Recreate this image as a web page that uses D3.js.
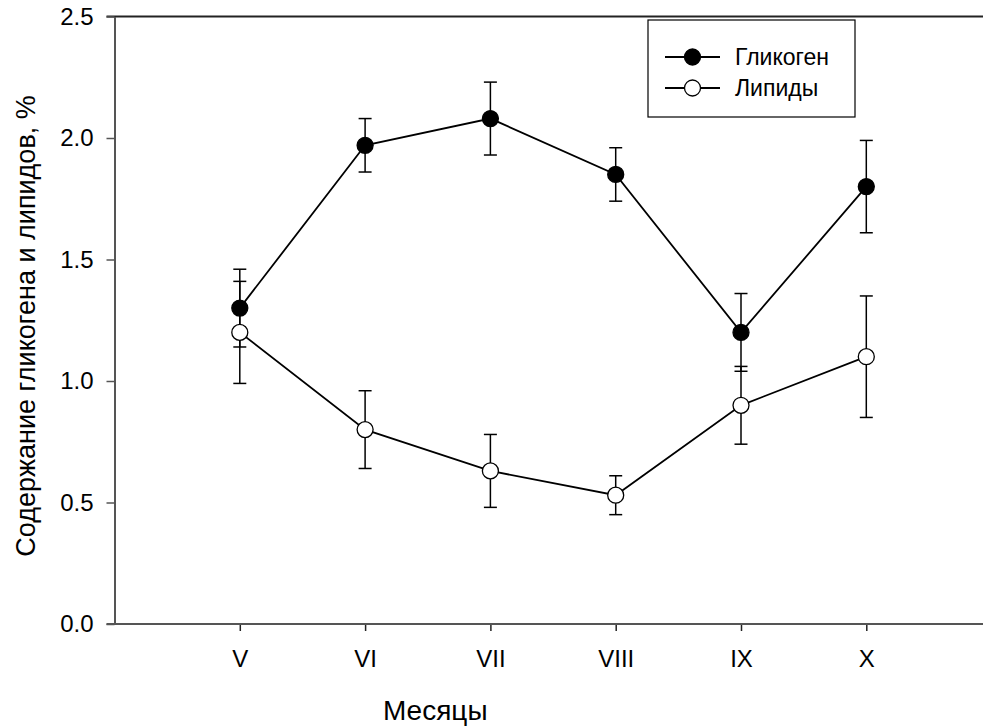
<!DOCTYPE html>
<html>
<head>
<meta charset="utf-8">
<script src="https://cdn.jsdelivr.net/npm/d3@7"></script>
<style>
  html, body { margin: 0; padding: 0; background: #fff; }
  svg { display: block; font-family: Arial, "Liberation Sans", sans-serif; }
</style>
</head>
<body>
<div id="chart"></div>
<script>
// Данные: месяцы и содержание гликогена/липидов
const months = [5, 6, 7, 8, 9, 10];
const monthLabels = ['V', 'VI', 'VII', 'VIII', 'IX', 'X'];
const glycogen = [1.30, 1.97, 2.08, 1.85, 1.20, 1.80];
const glycogenErr = [0.16, 0.11, 0.15, 0.11, 0.16, 0.19];
const lipids = [1.20, 0.80, 0.63, 0.53, 0.90, 1.10];
const lipidsErr = [0.21, 0.16, 0.15, 0.08, 0.16, 0.25];
const yTicks = [0, 0.5, 1.0, 1.5, 2.0, 2.5];

const width = 983, height = 727;
const plot = { left: 114.5, top: 16.5, bottom: 624, right: 983 };
const FONT = 'Arial, "Liberation Sans", sans-serif';

const svg = d3.select('#chart').append('svg')
    .attr('width', width).attr('height', height);

// шкалы
const x = d3.scaleLinear().domain([4, 11]).range([plot.left, plot.left + 7 * 125.3]);
const y = d3.scaleLinear().domain([0, 2.5]).range([plot.bottom, plot.top]);

// верхняя рамка
svg.append('line')
    .attr('x1', plot.left - 8).attr('x2', plot.right)
    .attr('y1', y(2.5)).attr('y2', y(2.5))
    .attr('stroke', '#222').attr('stroke-width', 2);

// ось Y
const yAxis = svg.append('g')
    .attr('transform', 'translate(' + plot.left + ',0)')
    .call(d3.axisLeft(y).tickValues(yTicks).tickFormat(d3.format('.1f')).tickSize(8).tickSizeOuter(0));
yAxis.select('.domain').attr('stroke', '#555').attr('stroke-width', 2);
yAxis.selectAll('.tick line').attr('stroke', '#555').attr('stroke-width', 1.5);
yAxis.selectAll('text').attr('font-size', 24).attr('fill', '#000').attr('x', -21)
    .attr('font-family', FONT);

// ось X
const xAxis = svg.append('g')
    .attr('transform', 'translate(0,' + plot.bottom + ')')
    .call(d3.axisBottom(x).tickValues(months).tickFormat(function (d, i) {
        return monthLabels[i];
    }).tickSize(7).tickSizeOuter(0));
xAxis.select('.domain').remove();
xAxis.append('line')
    .attr('x1', plot.left - 8).attr('x2', plot.right)
    .attr('stroke', '#555').attr('stroke-width', 2);
xAxis.selectAll('.tick line').attr('stroke', '#222').attr('stroke-width', 1.5);
xAxis.selectAll('text').attr('font-size', 24).attr('fill', '#000').attr('y', 26)
    .attr('font-family', FONT);

// подписи осей
svg.append('text')
    .attr('x', x(6.56)).attr('y', 720)
    .attr('text-anchor', 'middle').attr('font-size', 28)
    .text('Месяцы');

svg.append('text')
    .attr('transform', 'translate(35,' + 326 + ') rotate(-90)')
    .attr('text-anchor', 'middle').attr('font-size', 27)
    .text('Содержание гликогена и липидов, %');

// серии
const series = [
    { name: 'Гликоген', values: glycogen, err: glycogenErr, fill: '#000' },
    { name: 'Липиды', values: lipids, err: lipidsErr, fill: '#fff' }
];

const line = d3.line()
    .x(function (d) { return x(d.m); })
    .y(function (d) { return y(d.v); });

series.forEach(function (s) {
    const pts = months.map(function (m, i) {
        return { m: m, v: s.values[i], e: s.err[i] };
    });
    const g = svg.append('g');

    // планки погрешностей
    const bars = g.selectAll('.err').data(pts).enter().append('g');
    bars.append('line')
        .attr('x1', function (d) { return x(d.m); })
        .attr('x2', function (d) { return x(d.m); })
        .attr('y1', function (d) { return y(d.v - d.e); })
        .attr('y2', function (d) { return y(d.v + d.e); });
    [-1, 1].forEach(function (sgn) {
        bars.append('line')
            .attr('x1', function (d) { return x(d.m) - 6.5; })
            .attr('x2', function (d) { return x(d.m) + 6.5; })
            .attr('y1', function (d) { return y(d.v + sgn * d.e); })
            .attr('y2', function (d) { return y(d.v + sgn * d.e); });
    });
    bars.selectAll('line').attr('stroke', '#000').attr('stroke-width', 1.5);

    g.append('path').datum(pts)
        .attr('d', line).attr('fill', 'none')
        .attr('stroke', '#000').attr('stroke-width', 1.8);
});

series.forEach(function (s) {
    svg.append('g').selectAll('circle')
        .data(months.map(function (m, i) { return { m: m, v: s.values[i] }; }))
        .enter().append('circle')
        .attr('cx', function (d) { return x(d.m); })
        .attr('cy', function (d) { return y(d.v); })
        .attr('r', 8)
        .attr('fill', s.fill).attr('stroke', '#000').attr('stroke-width', 1.3);
});

// легенда
const legend = svg.append('g').attr('transform', 'translate(648,20)');
legend.append('rect')
    .attr('width', 207).attr('height', 97)
    .attr('fill', '#fff').attr('stroke', '#000').attr('stroke-width', 1.2);
const rows = legend.selectAll('.row').data(series).enter().append('g')
    .attr('transform', function (d, i) { return 'translate(0,' + (37 + i * 31) + ')'; });
rows.append('line')
    .attr('x1', 17).attr('x2', 72)
    .attr('stroke', '#000').attr('stroke-width', 1.8);
rows.append('circle')
    .attr('cx', 44.5).attr('r', 8)
    .attr('fill', function (d) { return d.fill; })
    .attr('stroke', '#000').attr('stroke-width', 1.3);
rows.append('text')
    .attr('x', 87).attr('dy', '0.36em')
    .attr('font-size', 23)
    .text(function (d) { return d.name; });
</script>
</body>
</html>
